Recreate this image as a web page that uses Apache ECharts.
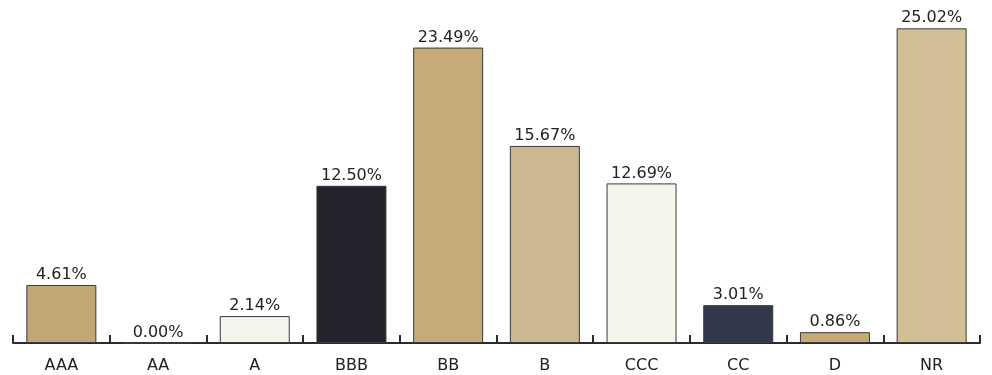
<!DOCTYPE html>
<html>
<head>
<meta charset="utf-8">
<script src="https://cdn.jsdelivr.net/npm/echarts@6/dist/echarts.min.js"></script>
<style>
  html, body { margin: 0; padding: 0; background: #ffffff; }
  #chart { width: 992px; height: 375px; }
</style>
</head>
<body>
<div id="chart"></div>
<script>
// Rating categories and their shares (%)
const categories = ['AAA', 'AA', 'A', 'BBB', 'BB', 'B', 'CCC', 'CC', 'D', 'NR'];
const shares = [4.61, 0.00, 2.14, 12.50, 23.49, 15.67, 12.69, 3.01, 0.86, 25.02];
// Fill colour for each bar
const barColors = ['#c2a676', '#c2a676', '#f5f4ea', '#23232d', '#c6aa7a', '#cbb891', '#f6f5ec', '#32374a', '#c6a974', '#d2bf95'];

const chart = echarts.init(document.getElementById('chart'));

chart.setOption({
  animation: false,
  backgroundColor: '#ffffff',
  grid: { left: 13, right: 12, top: 16, bottom: 32 },
  xAxis: {
    type: 'category',
    data: categories,
    boundaryGap: true,
    axisLine: { lineStyle: { color: '#2a2a30', width: 2 } },
    axisTick: { show: true, inside: true, length: 8, lineStyle: { color: '#2a2a30', width: 2 } },
    axisLabel: { color: '#222', fontSize: 16, fontFamily: 'DejaVu Sans, sans-serif', margin: 15 }
  },
  yAxis: {
    type: 'value',
    min: 0,
    max: 26,
    show: false,
    splitLine: { show: false }
  },
  series: [{
    type: 'bar',
    barWidth: 70,
    data: shares.map((v, i) => ({
      value: v,
      itemStyle: { color: barColors[i], borderColor: '#3a3a3a', borderWidth: 1 }
    })),
    label: {
      show: true,
      position: 'top',
      distance: 2,
      color: '#222',
      fontSize: 16,
      fontFamily: 'DejaVu Sans, sans-serif',
      formatter: p => p.value.toFixed(2) + '%'
    }
  }]
});
</script>
</body>
</html>
